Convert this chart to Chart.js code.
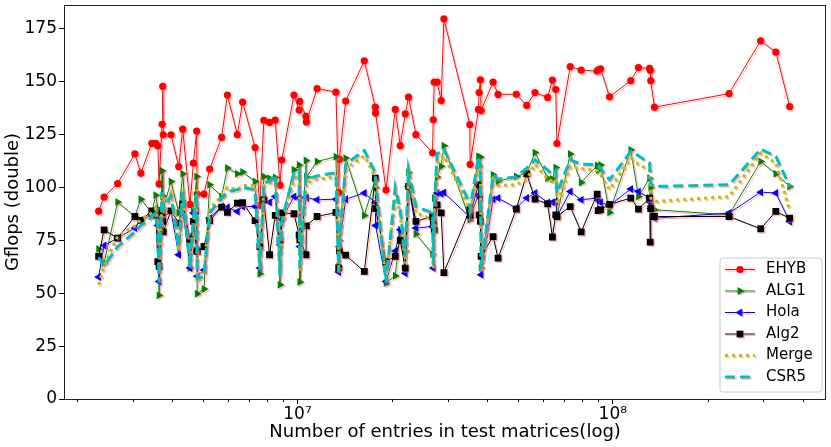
<!DOCTYPE html>
<html>
<head>
<meta charset="utf-8">
<script src="https://cdn.jsdelivr.net/npm/chart.js"></script>
<style>
body{margin:0;background:#fff}
canvas{display:block}
</style>
</head>
<body>
<canvas id="myChart" width="831" height="447"></canvas>
<script>
// number of non zero entries of each test matrix (millions)
let nnzMillions=[2.341,2.436,2.690,3.050,3.186,3.451,3.553,3.606,3.640,3.721,
3.739,3.753,3.972,4.201,4.326,4.562,4.676,4.790,4.808,5.052,
5.266,5.747,5.995,6.446,6.699,7.337,7.598,7.823,8.154,8.500,
8.804,8.918,9.748,10.12,10.17,10.64,10.67,11.54,13.24,13.51,
13.58,14.22,16.29,17.65,17.69,19.09,20.42,21.18,21.97,22.50,
23.75,26.81,26.95,27.14,27.73,28.56,29.13,35.20,35.28,37.48,
37.67,38.03,38.22,41.72,43.26,49.43,53.33,56.66,62.13,64.34,
65.92,66.50,73.28,79.37,89.20,89.85,91.44,97.63,114.0,120.6,
130.8,131.4,131.9,135.5,233.7,294.4,328.8,363.8]

let ehyb=[88.8,95.5,101.9,115.9,106.8,120.9,120.9,119.7,101.7,129.9,
147.8,124.9,124.9,109.9,127.6,92.0,111.5,126.7,96.9,96.9,
108.7,123.7,143.7,125.0,140.4,118.9,91.6,131.8,130.8,131.9,
101.1,113.0,143.7,136.6,140.7,133.6,131.0,146.8,145.1,97.6,
113.4,140.9,159.9,138.0,135.2,98.8,136.9,119.8,134.8,142.7,
125.0,116.4,132.0,149.8,149.8,141.1,179.7,129.8,110.9,136.9,
144.9,150.9,136.4,149.8,144.0,144.1,138.8,144.9,142.6,150.8,
146.3,120.8,157.2,155.5,155.0,155.6,156.1,142.9,150.5,156.7,
156.4,155.4,150.5,138.0,144.4,169.4,164.0,138.3]

let alg1=[70.9,64.3,93.1,86.3,94.5,88,96.4,90,49,107.9,
96,90,102.8,88,106.5,61.9,88.7,105.2,49.8,52,
101.3,95.8,109.2,106.5,107.3,102.8,59.2,105.2,104.4,104.7,
54,85,108.4,110.7,55.3,112.8,105,112.3,114.5,62.7,
75,113.9,86.8,104,100,54.8,58.3,80,70,107.1,
78,68.5,80,95,105,110,119.7,84.7,86,114.7,
110,114.4,62,106,103,105.2,106.8,116.5,104.4,104,
109.5,86.3,115.9,102.4,110.4,108,110.7,88.2,117.8,95.7,
104.4,90.3,100,89.5,87.1,112.3,106.5,100.5]

let hola=[57.7,72.6,76.1,80.8,84.7,87,87,82,55.6,88,
87,86,88.7,68.2,90.3,61.9,88,89,58,61,
85.5,91,90.7,88.7,91,91,61.9,95,93,95.7,
72.9,85,95.7,95,72.1,95.3,95.3,94.2,94.5,60,
72,94.5,97.4,92.9,82,55.6,70,80,59.5,100.5,
80.8,81.6,61.9,82,97.4,97,97.6,86,86,96.5,
96,95,58.7,94.5,95,90.3,95,97.4,92.9,93,
93.4,86.3,98.1,94.2,95,94,93,91.5,99.3,98.1,
95,93,90,85.5,87.9,97.8,97.4,83.9]

let alg2=[67.4,80,76.1,86.3,84.4,89,86.8,65,62.7,88,
84,79,89,83.2,92.2,75.3,84,70.1,69.8,72.1,
84.4,90.7,88.2,92.6,92.9,84.3,72,94.2,68.2,86.8,
75.3,88,87.6,77.6,75.3,68.2,81.9,86.3,88.2,62,
70,68,60.3,104.4,90,65,67.4,75,61.9,100.5,
84,86.3,84,80,91.8,88,59.8,89.5,87,101.3,
87.1,84,67.4,76.8,66.6,89.8,106.5,94.5,92.3,76.6,
87.1,86.3,91,79,96.9,89.1,89.5,92,95,89.8,
95,74.2,90,86.3,86.3,80.5,88.7,85.5]

let merge=[54,63,77,82,85,88,90,84,57,96,
90,88,97,70,99,63,84,99,55,60,
90,96,100,99,101,101,62,101,102,104,
60,82,104,106,60,104,102,104,105,62,
75,109,115,105,100,56,97,87,64,106,
88,85,62,87,112,114,115,90,88,112,
105,110,60,104,101,101.3,104,111,104,103,
104,92,110,109,108,107,106,99,114,111,
108,100,95,93.4,95.7,116.3,111.5,89]

let csr5=[67,63,72,79,82,86,88,80,55,98,
93,90,96,72,98,62,86,97,57,58,
88,95,98,99,100,99,61,102,103,106,
58,84,107,108,62,105,104,105.5,107,60,
73,111,117.5,107,103,55,100,89.5,67,108.4,
91,88,64,90,116,117,118,92.6,90,114.7,
108,112,61.1,106,104,105,109.2,113.1,108.4,106,
108,97.4,113.1,111,110.8,110.5,109,103.6,117,115,
111.5,106,102,100.5,101.3,118.1,114.7,100.5]

let seriesNames=['EHYB','ALG1','Hola','Alg2','Merge','CSR5']
let yTicks=[0,25,50,75,100,125,150,175]
let xMajorTicks=[1e7,1e8]
let xTickLabels=['10⁷','10⁸']
let xMinorTicks=[2e6,3e6,4e6,5e6,6e6,7e6,8e6,9e6,2e7,3e7,4e7,5e7,6e7,7e7,8e7,9e7,2e8,3e8,4e8]
let xMin=1.818e6, xMax=4.75e8
let yMin=0, yMax=186.3

function pts(vals){
  return vals.map((v,i)=>({x:nnzMillions[i]*1e6,y:v}))
}

let shadowColor='rgba(255,110,110,0.45)'

// pink drop shadow under every line, like the path effect in the original
let shadowPlugin={
  id:'shadow',
  beforeDatasetDraw(chart){
    let c=chart.ctx
    c.save()
    c.shadowColor=shadowColor
    c.shadowOffsetX=1.5
    c.shadowOffsetY=1.5
    c.shadowBlur=0
  },
  afterDatasetDraw(chart){
    chart.ctx.restore()
  }
}

function marker(c,ds,x,y){
  if(Chart.helpers && Chart.helpers.drawPoint){
    Chart.helpers.drawPoint(c,{pointStyle:ds.pointStyle,rotation:ds.pointRotation||0,radius:ds.pointRadius,borderWidth:0},x,y)
    return
  }
  c.beginPath()
  c.arc(x,y,ds.pointRadius,0,Math.PI*2)
  c.fill()
}

// frame, minor ticks and the legend box
let framePlugin={
  id:'frame',
  afterDraw(chart){
    let c=chart.ctx
    let a=chart.chartArea
    let sx=chart.scales.x
    c.save()
    c.strokeStyle='#222'
    c.lineWidth=1
    c.strokeRect(Math.round(a.left)+0.5,Math.round(a.top)+0.5,Math.round(a.right-a.left)-1,Math.round(a.bottom-a.top))
    c.strokeStyle='#000'
    xMinorTicks.forEach(v=>{
      let px=Math.round(sx.getPixelForValue(v))+0.5
      c.beginPath()
      c.moveTo(px,a.bottom)
      c.lineTo(px,a.bottom+3)
      c.stroke()
    })

    let x0=720,y0=258,w=102,h=134,r=3
    c.fillStyle='rgba(255,255,255,0.8)'
    c.strokeStyle='#cccccc'
    c.beginPath()
    c.moveTo(x0+r,y0)
    c.arcTo(x0+w,y0,x0+w,y0+h,r)
    c.arcTo(x0+w,y0+h,x0,y0+h,r)
    c.arcTo(x0,y0+h,x0,y0,r)
    c.arcTo(x0,y0,x0+w,y0,r)
    c.closePath()
    c.fill()
    c.stroke()

    chart.data.datasets.forEach((ds,i)=>{
      let y=269.5+i*21.5
      c.save()
      c.shadowColor=shadowColor
      c.shadowOffsetX=1.5
      c.shadowOffsetY=1.5
      c.strokeStyle=ds.borderColor
      c.fillStyle=ds.backgroundColor
      c.lineWidth=ds.borderWidth
      c.setLineDash(ds.borderDash||[])
      c.beginPath()
      c.moveTo(725,y)
      c.lineTo(755,y)
      c.stroke()
      c.setLineDash([])
      if(ds.pointRadius>0) marker(c,ds,740,y)
      c.restore()
      c.fillStyle='#000'
      c.font='15px "DejaVu Sans"'
      c.textBaseline='middle'
      c.fillText(seriesNames[i],766,y)
    })
    c.restore()
  }
}

Chart.defaults.font.family='"DejaVu Sans", sans-serif'

let styles=[
  {color:'#ff0000',width:1,style:'circle',rot:0,radius:3.6,dash:[]},
  {color:'#008000',width:1,style:'triangle',rot:90,radius:4.6,dash:[]},
  {color:'#0000ff',width:1,style:'triangle',rot:-90,radius:4.6,dash:[]},
  {color:'#000000',width:1,style:'rect',rot:0,radius:4.8,dash:[]},
  {color:'#bfbf00',width:3,style:'circle',rot:0,radius:0,dash:[3,4]},
  {color:'#00bfbf',width:3,style:'circle',rot:0,radius:0,dash:[10,5]}
]
let allValues=[ehyb,alg1,hola,alg2,merge,csr5]

let datasets=allValues.map((vals,i)=>({
  label:seriesNames[i],
  data:pts(vals),
  borderColor:styles[i].color,
  backgroundColor:styles[i].color,
  borderWidth:styles[i].width,
  borderDash:styles[i].dash,
  pointStyle:styles[i].style,
  pointRotation:styles[i].rot,
  pointRadius:styles[i].radius,
  pointBorderWidth:0,
  pointHoverRadius:styles[i].radius,
  tension:0,
  fill:false,
  order:allValues.length-i
}))

const ctx=document.getElementById('myChart')

new Chart(ctx,{
  type:'line',
  data:{datasets:datasets},
  options:{
    responsive:false,
    animation:false,
    devicePixelRatio:1,
    events:[],
    layout:{padding:{left:0,right:3,top:5,bottom:0}},
    plugins:{legend:{display:false},tooltip:{enabled:false}},
    scales:{
      x:{
        type:'logarithmic',
        min:xMin,
        max:xMax,
        bounds:'data',
        afterBuildTicks(s){
          s.ticks=xMajorTicks.concat(xMinorTicks).sort((a,b)=>a-b).map(v=>({value:v}))
        },
        afterFit(s){ s.height=48; s.paddingLeft=0; s.paddingRight=0 },
        ticks:{
          autoSkip:false,maxRotation:0,minRotation:0,color:'#000',font:{size:17},padding:0,
          callback(v){ let k=xMajorTicks.indexOf(v); return k<0?'':xTickLabels[k] }
        },
        grid:{
          drawOnChartArea:false,tickLength:5,
          tickColor(c){ return xMajorTicks.includes(c.tick.value)?'#000':'rgba(0,0,0,0)' }
        },
        border:{display:false},
        title:{display:true,text:'Number of entries in test matrices(log)',color:'#000',font:{size:18},padding:{top:0,bottom:4}}
      },
      y:{
        min:yMin,
        max:yMax,
        afterBuildTicks(s){ s.ticks=yTicks.map(v=>({value:v})) },
        afterFit(s){ s.width=64; s.paddingTop=0; s.paddingBottom=0 },
        ticks:{color:'#000',font:{size:17},padding:2},
        grid:{drawOnChartArea:false,tickLength:5,tickColor:'#000'},
        border:{display:false},
        title:{display:true,text:'Gflops (double)',color:'#000',font:{size:18},padding:{top:3,bottom:0}}
      }
    }
  },
  plugins:[shadowPlugin,framePlugin]
})
</script>
</body>
</html>
